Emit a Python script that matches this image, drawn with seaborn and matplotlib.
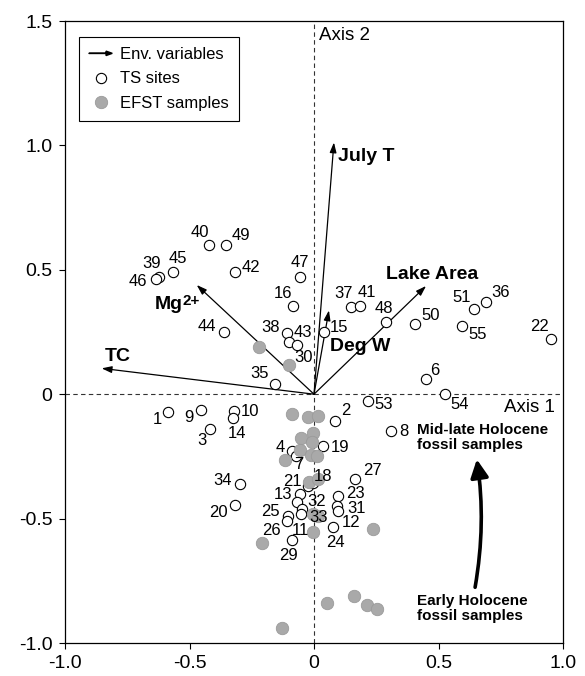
import matplotlib
matplotlib.use("Agg")
import numpy as np
import pandas as pd
import matplotlib.pyplot as plt
import matplotlib.patches as mpatches
from matplotlib.legend_handler import HandlerPatch
from matplotlib.lines import Line2D
import seaborn as sns

# ---- Ordination scores -------------------------------------------------
# Training-set (TS) sites
site_ids = [40, 49, 39, 46, 45, 42, 47, 16, 44, 38, 43, 30, 15, 35,
            37, 41, 48, 50, 51, 36, 55, 22, 6, 54, 53, 2, 8,
            1, 9, 10, 14, 3, 34, 20, 4, 7, 19, 27, 21, 18, 13, 23,
            31, 12, 32, 33, 11, 25, 26, 29, 24]
site_x = [-0.420, -0.353, -0.621, -0.635, -0.565, -0.316, -0.055, -0.086,
          -0.361, -0.107, -0.099, -0.069, 0.041, -0.158,
          0.147, 0.185, 0.289, 0.407, 0.644, 0.691, 0.593, 0.951, 0.450,
          0.527, 0.215, 0.085, 0.310,
          -0.588, -0.455, -0.321, -0.327, -0.416, -0.297, -0.317, -0.088,
          -0.072, 0.035, 0.165, -0.023, -0.004, -0.056, 0.098,
          0.094, 0.098, -0.069, -0.049, -0.052, -0.103, -0.110, -0.090, 0.078]
site_y = [0.601, 0.601, 0.473, 0.465, 0.493, 0.493, 0.471, 0.356,
          0.248, 0.244, 0.210, 0.197, 0.248, 0.043,
          0.351, 0.355, 0.292, 0.282, 0.341, 0.371, 0.276, 0.222, 0.060,
          0.001, -0.026, -0.106, -0.146,
          -0.071, -0.064, -0.068, -0.094, -0.138, -0.359, -0.447, -0.228,
          -0.249, -0.208, -0.339, -0.367, -0.357, -0.402, -0.408,
          -0.449, -0.469, -0.433, -0.462, -0.482, -0.489, -0.509, -0.586, -0.535]

# Early-to-late Holocene fossil samples (EFST)
fossil_x = [-0.221, -0.099, -0.090, -0.023, 0.015, -0.003, -0.052, -0.009,
            -0.056, -0.012, 0.011, -0.116, -0.019, 0.017, -0.003, 0.017,
            -0.005, -0.210, 0.238, 0.053, 0.162, 0.214, 0.252, -0.130]
fossil_y = [0.189, 0.118, -0.078, -0.091, -0.087, -0.154, -0.178, -0.194,
            -0.224, -0.245, -0.250, -0.265, -0.352, -0.341, -0.482, -0.489,
            -0.555, -0.600, -0.542, -0.839, -0.810, -0.847, -0.863, -0.941]

# Environmental variable biplot scores (name, superscript part)
env_names = ["July T", "Lake Area", "Deg W", "Mg", "TC"]
env_sup = ["", "", "", "2+", ""]
env_x = [0.080, 0.450, 0.060, -0.471, -0.853]
env_y = [1.012, 0.435, 0.337, 0.439, 0.104]

# ---- Layout settings ---------------------------------------------------
# site label offsets in pixels (dx, dy) from the marker centre
label_offsets = {
    40: (-10, 12), 49: (15, 9), 39: (-8, 13), 46: (-18, -3), 45: (5, 13),
    42: (16, 4), 47: (0, 15), 16: (-10, 12), 44: (-17, 6), 38: (-17, 6),
    43: (14, 9), 30: (7, -12), 15: (15, 5), 35: (-15, 10), 37: (-7, 13),
    41: (7, 13), 48: (-2, 13), 50: (15, 9), 51: (-13, 12), 36: (15, 9),
    55: (16, -9), 22: (-11, 12), 6: (9, 9), 54: (14, -11), 53: (16, -4),
    2: (11, 10), 8: (13, -1), 1: (-10, -8), 9: (-12, -7), 10: (16, 0),
    14: (4, -16), 3: (-8, -12), 34: (-17, 3), 20: (-17, -7), 4: (-12, 3),
    7: (3, -8), 19: (17, -2), 27: (17, 8), 21: (-16, 4), 18: (10, 7),
    13: (-17, 0), 23: (17, 2), 31: (19, -3), 12: (13, -12), 32: (20, 0),
    33: (17, -8), 11: (-1, -16), 25: (-18, 4), 26: (-15, -10), 29: (-3, -16),
    24: (2, -15),
}
# env label anchor (x, y, ha)
env_label_pos = [(0.096, 0.956, "left"), (0.473, 0.482, "center"),
                 (0.064, 0.193, "left"), (-0.639, 0.362, "left"),
                 (-0.839, 0.153, "left")]

sns.set_style("white")
plt.rcParams["font.family"] = ["Liberation Sans", "DejaVu Sans"]
plt.rcParams["text.color"] = "black"
plt.rcParams["axes.labelcolor"] = "black"
plt.rcParams["xtick.color"] = "black"
plt.rcParams["ytick.color"] = "black"

fig = plt.figure(figsize=(5.85, 6.76), dpi=100)
ax = fig.add_axes([65 / 585, 33 / 676, 498 / 585, 622 / 676])

sites = pd.DataFrame({"id": site_ids, "x": site_x, "y": site_y})
fossils = pd.DataFrame({"x": fossil_x, "y": fossil_y})

# reference axes
ax.axhline(0, color="#333333", lw=0.8, ls=(0, (4, 3)), zorder=1)
ax.axvline(0, color="#333333", lw=0.8, ls=(0, (4, 3)), zorder=1)

# environmental vectors
for ex, ey in zip(env_x, env_y):
    ax.annotate("", xy=(ex, ey), xytext=(0, 0),
                arrowprops=dict(arrowstyle="-|>,head_length=0.6,head_width=0.2",
                                lw=0.9, color="black", shrinkA=0, shrinkB=0,
                                mutation_scale=10),
                zorder=2)
for name, sup, (lx, ly, ha) in zip(env_names, env_sup, env_label_pos):
    t = ax.text(lx, ly, name, ha=ha, va="center", fontsize=14,
                fontweight="bold", color="black", zorder=6)
    if sup:
        ax.annotate(sup, xy=(1, 1), xycoords=t, xytext=(0, 2),
                    textcoords="offset pixels", ha="left", va="top",
                    fontsize=11, fontweight="bold", color="black", zorder=6)

sns.scatterplot(data=sites, x="x", y="y", ax=ax, color="white",
                edgecolor="black", linewidth=0.8, s=55, zorder=3, legend=False)
sns.scatterplot(data=fossils, x="x", y="y", ax=ax, color="#a9a9a9",
                edgecolor="#9a9a9a", linewidth=0.6, s=80, zorder=4, legend=False)

for sid, sx, sy in zip(site_ids, site_x, site_y):
    dx, dy = label_offsets[sid]
    ax.annotate(str(sid), xy=(sx, sy), xytext=(dx, dy),
                textcoords="offset pixels", ha="center", va="center",
                fontsize=12, color="black", zorder=6)

# axis names
ax.text(0.968, -0.052, "Axis 1", ha="right", va="center", fontsize=13.5)
ax.text(0.020, 1.443, "Axis 2", ha="left", va="center", fontsize=13.5)

# trajectory of fossil samples
traj = mpatches.FancyArrowPatch((0.647, -0.776), (0.654, -0.262),
                                connectionstyle="arc3,rad=0.08",
                                arrowstyle="-|>,head_length=0.9,head_width=0.45",
                                mutation_scale=12, lw=2.6, color="black",
                                shrinkA=0, shrinkB=0, zorder=5)
ax.add_patch(traj)
ax.text(0.415, -0.173, "Mid-late Holocene\nfossil samples", ha="left",
        va="center", fontsize=11, fontweight="bold", linespacing=1.05)
ax.text(0.413, -0.862, "Early Holocene\nfossil samples", ha="left",
        va="center", fontsize=11, fontweight="bold", linespacing=1.05)

ax.set_xlim(-1.0, 1.0)
ax.set_ylim(-1.0, 1.5)
ax.set_xticks([-1.0, -0.5, 0, 0.5, 1.0])
ax.set_xticklabels(["-1.0", "-0.5", "0", "0.5", "1.0"])
ax.set_yticks([-1.0, -0.5, 0, 0.5, 1.0, 1.5])
ax.set_yticklabels(["-1.0", "-0.5", "0", "0.5", "1.0", "1.5"])
ax.tick_params(axis="both", direction="out", length=4, width=0.8,
               labelsize=14, pad=5, colors="black", bottom=True, left=True)
ax.set_xlabel("")
ax.set_ylabel("")
for sp in ax.spines.values():
    sp.set_color("black")
    sp.set_linewidth(0.9)


def make_arrow(legend, orig_handle, xdescent, ydescent, width, height, fontsize):
    return mpatches.FancyArrow(-xdescent, height / 2 - ydescent, width, 0,
                               width=0.2, head_width=3.2, head_length=4.5,
                               length_includes_head=True, color="black",
                               lw=0.5)


env_handle = mpatches.Patch(color="black")
ts_handle = Line2D([], [], marker="o", ls="none", markerfacecolor="white",
                   markeredgecolor="black", markersize=7.4, markeredgewidth=0.8)
efst_handle = Line2D([], [], marker="o", ls="none", markerfacecolor="#a9a9a9",
                     markeredgecolor="#9a9a9a", markersize=8.9,
                     markeredgewidth=0.6)
leg = ax.legend([env_handle, ts_handle, efst_handle],
                ["Env. variables", "TS sites", "EFST samples"],
                handler_map={env_handle: HandlerPatch(patch_func=make_arrow)},
                loc="upper left", bbox_to_anchor=(0.028, 0.974),
                borderaxespad=0, fontsize=12, frameon=True, fancybox=False,
                framealpha=1, edgecolor="black", handlelength=1.4,
                handletextpad=0.45, labelspacing=0.55, borderpad=0.6)
leg.get_frame().set_linewidth(0.8)
for t in leg.get_texts():
    t.set_color("black")

fig.savefig("out.png", dpi=100)
